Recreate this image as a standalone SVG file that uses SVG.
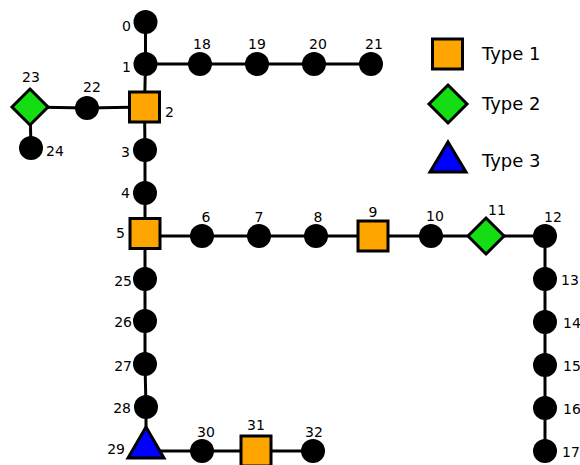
<svg xmlns="http://www.w3.org/2000/svg" width="580" height="465" viewBox="0 0 580 465">
<style>
.e{stroke:#000;stroke-width:3;fill:none}
.c{fill:#000}
.sq{fill:#ffa500;stroke:#000;stroke-width:3}
.dm{fill:#14dd14;stroke:#000;stroke-width:3}
.tr{fill:#0000ff;stroke:#000;stroke-width:3;stroke-linejoin:miter}
text{font-family:"DejaVu Sans",sans-serif;font-size:14px;fill:#000}
.m{text-anchor:middle}
.r{text-anchor:end}
.lg{font-size:18px}
</style>
<g id="edges">
<path class="e" d="M145.5,22V64M145.5,64L371,64M145.5,64L144.5,107M144.5,107L87,108L30,107L31,148M144.5,107L145,150L145,193L145,233.5M145,236L202,236L259,236L316,236L373,236L431,236L486,236L545,236L545,451M145,233.5L145,279L145,321L145,364L146,407L146,446M146,451L202,451L256,451L313,451"/>
</g>
<g id="n0"><circle class="c" cx="145.5" cy="22" r="12"/><text class="r" x="131" y="31">0</text></g>
<g id="n1"><circle class="c" cx="145.5" cy="64" r="12"/><text class="r" x="131" y="72">1</text></g>
<g id="n18"><circle class="c" cx="200" cy="64" r="12"/><text class="m" x="202" y="49">18</text></g>
<g id="n19"><circle class="c" cx="257" cy="64" r="12"/><text class="m" x="257" y="49">19</text></g>
<g id="n20"><circle class="c" cx="314" cy="64" r="12"/><text class="m" x="318" y="49">20</text></g>
<g id="n21"><circle class="c" cx="371" cy="64" r="12"/><text class="m" x="374" y="49">21</text></g>
<g id="n2"><rect class="sq" x="129.5" y="92" width="30" height="30"/><text x="165" y="117">2</text></g>
<g id="n22"><circle class="c" cx="87" cy="108" r="12"/><text class="m" x="92" y="92">22</text></g>
<g id="n23"><polygon class="dm" points="30,89 48,107 30,125 12,107"/><text class="m" x="31" y="82">23</text></g>
<g id="n24"><circle class="c" cx="31" cy="148" r="12"/><text x="46" y="156">24</text></g>
<g id="n3"><circle class="c" cx="145" cy="150" r="12"/><text class="r" x="130" y="157">3</text></g>
<g id="n4"><circle class="c" cx="145" cy="193" r="12"/><text class="r" x="130" y="198">4</text></g>
<g id="n5"><rect class="sq" x="130" y="218.5" width="30" height="30"/><text class="r" x="125" y="238">5</text></g>
<g id="n6"><circle class="c" cx="202" cy="236" r="12"/><text class="m" x="206" y="222">6</text></g>
<g id="n7"><circle class="c" cx="259" cy="236" r="12"/><text class="m" x="259" y="222">7</text></g>
<g id="n8"><circle class="c" cx="316" cy="236" r="12"/><text class="m" x="318" y="222">8</text></g>
<g id="n9"><rect class="sq" x="358" y="221" width="30" height="30"/><text class="m" x="373" y="217">9</text></g>
<g id="n10"><circle class="c" cx="431" cy="236" r="12"/><text class="m" x="435" y="221">10</text></g>
<g id="n11"><polygon class="dm" points="486,218 504,236 486,254 468,236"/><text class="m" x="497" y="215">11</text></g>
<g id="n12"><circle class="c" cx="545" cy="236" r="12"/><text class="m" x="553" y="222">12</text></g>
<g id="n13"><circle class="c" cx="545" cy="279" r="12"/><text x="561" y="285">13</text></g>
<g id="n14"><circle class="c" cx="545" cy="322" r="12"/><text x="563" y="328">14</text></g>
<g id="n15"><circle class="c" cx="545" cy="365" r="12"/><text x="563" y="371">15</text></g>
<g id="n16"><circle class="c" cx="545" cy="408" r="12"/><text x="563" y="414">16</text></g>
<g id="n17"><circle class="c" cx="545" cy="451" r="12"/><text x="562" y="457">17</text></g>
<g id="n25"><circle class="c" cx="145" cy="279" r="12"/><text class="r" x="132" y="286">25</text></g>
<g id="n26"><circle class="c" cx="145" cy="321" r="12"/><text class="r" x="132" y="327">26</text></g>
<g id="n27"><circle class="c" cx="145" cy="364" r="12"/><text class="r" x="132" y="371">27</text></g>
<g id="n28"><circle class="c" cx="146" cy="407" r="12"/><text class="r" x="131" y="413">28</text></g>
<g id="n29"><polygon class="tr" points="146,427 164,458 128,458"/><text class="r" x="125" y="454">29</text></g>
<g id="n30"><circle class="c" cx="202" cy="451" r="12"/><text class="m" x="206" y="437">30</text></g>
<g id="n31"><rect class="sq" x="241" y="436" width="30" height="30"/><text class="m" x="256" y="430">31</text></g>
<g id="n32"><circle class="c" cx="313" cy="451" r="12"/><text class="m" x="314" y="437">32</text></g>
<g id="legend">
<rect class="sq" x="432.5" y="39" width="30" height="30"/>
<text class="lg" x="482" y="60">Type 1</text>
<polygon class="dm" points="448,85 467,104 448,123 429,104"/>
<text class="lg" x="482" y="110">Type 2</text>
<polygon class="tr" points="448,142 466,172 430,172"/>
<text class="lg" x="482" y="167">Type 3</text>
</g>
</svg>
